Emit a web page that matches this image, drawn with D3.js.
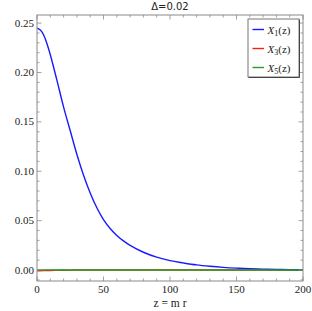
<!DOCTYPE html>
<html>
<head>
<meta charset="utf-8">
<script src="https://cdn.jsdelivr.net/npm/d3@7"></script>
<style>
  body { margin: 0; background: #fff; }
  svg { display: block; }
</style>
</head>
<body>
<div class="canvas"></div>
<script>
// data
const zValues = [0, 2.5, 5, 7.5, 10, 15, 20, 25, 30, 35, 40, 45, 50, 55, 60, 65, 70, 80, 90, 100, 110, 120, 130, 140, 150, 160, 170, 180, 190, 200]
const x1Values = [0.245, 0.243, 0.238, 0.229, 0.218, 0.192, 0.165, 0.141, 0.117, 0.096, 0.078, 0.063, 0.051, 0.042, 0.035, 0.0295, 0.025, 0.018, 0.013, 0.0095, 0.0072, 0.0052, 0.0038, 0.0027, 0.0019, 0.0013, 0.0009, 0.0006, 0.0004, 0.0003]
const x3Values = [-0.0007, -0.0007, -0.0006, -0.0005, -0.0004, -0.0003, -0.0002, -0.0001, 0, 0, 0, 0, 0, 0, 0, 0, 0, 0, 0, 0, 0, 0, 0, 0, 0, 0, 0, 0, 0, 0]
const x5Values = [0.0002, 0.0002, 0.0002, 0.0002, 0.0002, 0.0001, 0.0001, 0.0001, 0, 0, 0, 0, 0, 0, 0, 0, 0, 0, 0, 0, 0, 0, 0, 0, 0, 0, 0, 0, 0, 0]
const seriesNames = ["1", "3", "5"]
const seriesColors = ["#1a1aff", "#ff1a1a", "#22a022"]
const xTicks = [0, 50, 100, 150, 200]
const yTicks = [0.00, 0.05, 0.10, 0.15, 0.20, 0.25]
const title = "Δ=0.02"
const xLabel = "z = m r"

const dims = { width: 312, height: 311 }
const margin = { left: 37, right: 9, top: 15, bottom: 30 }
const serif = "'Liberation Serif', 'DejaVu Serif', serif"

const svg = d3.select(".canvas")
    .append("svg")
    .attr("width", dims.width)
    .attr("height", dims.height)

const w = dims.width - margin.left - margin.right
const h = dims.height - margin.top - margin.bottom

const x = d3.scaleLinear().domain([0, 200]).range([margin.left, margin.left + w])
const y = d3.scaleLinear().domain([-0.0111, 0.2582]).range([margin.top + h, margin.top])

const frameColor = "#8a8a8a"

// plot lines, clipped to frame
svg.append("clipPath").attr("id", "clip")
    .append("rect")
    .attr("x", margin.left).attr("y", margin.top)
    .attr("width", w).attr("height", h)

const line = d3.line()
    .x((d, i) => x(zValues[i]))
    .y(d => y(d))
    .curve(d3.curveCatmullRom.alpha(0.5))

const plot = svg.append("g").attr("clip-path", "url(#clip)")
const allSeries = [x1Values, x3Values, x5Values]
// red first, then blue, green on top
;[1, 0, 2].forEach(k => {
    plot.append("path")
        .datum(allSeries[k])
        .attr("fill", "none")
        .attr("stroke", seriesColors[k])
        .attr("stroke-width", 1.4)
        .attr("d", line)
})

// frame
svg.append("rect")
    .attr("x", margin.left).attr("y", margin.top)
    .attr("width", w).attr("height", h)
    .attr("fill", "none")
    .attr("stroke", frameColor)
    .attr("stroke-width", 1)

// ticks on all four sides, pointing inward
const ticks = svg.append("g").attr("stroke", frameColor).attr("stroke-width", 0.8)
d3.range(0, 201, 10).forEach(v => {
    const len = v % 50 === 0 ? 4.5 : 2.5
    ticks.append("line").attr("x1", x(v)).attr("x2", x(v))
        .attr("y1", margin.top + h).attr("y2", margin.top + h - len)
    ticks.append("line").attr("x1", x(v)).attr("x2", x(v))
        .attr("y1", margin.top).attr("y2", margin.top + len)
})
d3.range(-1, 26).forEach(i => {
    const v = i * 0.01
    const len = i % 5 === 0 ? 4.5 : 2.5
    ticks.append("line").attr("y1", y(v)).attr("y2", y(v))
        .attr("x1", margin.left).attr("x2", margin.left + len)
    ticks.append("line").attr("y1", y(v)).attr("y2", y(v))
        .attr("x1", margin.left + w).attr("x2", margin.left + w - len)
})

// tick labels
svg.append("g").selectAll("text")
    .data(xTicks)
    .enter().append("text")
    .attr("x", d => x(d))
    .attr("y", margin.top + h + 12)
    .attr("text-anchor", "middle")
    .attr("font-family", serif)
    .attr("font-size", 11)
    .attr("fill", "#222")
    .text(d => d)

svg.append("g").selectAll("text")
    .data(yTicks)
    .enter().append("text")
    .attr("x", margin.left - 3)
    .attr("y", d => y(d) + 3.5)
    .attr("text-anchor", "end")
    .attr("font-family", serif)
    .attr("font-size", 11)
    .attr("fill", "#222")
    .text(d => d.toFixed(2))

// title and axis label
svg.append("text")
    .attr("x", margin.left + w / 2)
    .attr("y", 10)
    .attr("text-anchor", "middle")
    .attr("font-family", "'DejaVu Sans', sans-serif")
    .attr("font-size", 10)
    .attr("fill", "#222")
    .text(title)

svg.append("text")
    .attr("x", margin.left + w / 2)
    .attr("y", 307)
    .attr("text-anchor", "middle")
    .attr("font-family", serif)
    .attr("font-size", 11.5)
    .attr("fill", "#222")
    .text(xLabel)

// legend
const legend = svg.append("g")
legend.append("rect")
    .attr("x", 248).attr("y", 19)
    .attr("width", 51).attr("height", 58)
    .attr("fill", "#fff")
    .attr("stroke", "#777")
    .attr("stroke-width", 1)
// slight shadow on right/bottom edges
legend.append("path")
    .attr("d", "M299.5,19.5 V77.5 H248.5")
    .attr("fill", "none")
    .attr("stroke", "#444")
    .attr("stroke-width", 1)

const rows = legend.selectAll(".row")
    .data(seriesNames)
    .enter().append("g")
    .attr("class", "row")
    .attr("transform", (d, i) => `translate(252.5, ${29.5 + i * 19})`)

rows.append("line")
    .attr("x1", 0).attr("x2", 11.5)
    .attr("stroke", (d, i) => seriesColors[i])
    .attr("stroke-width", 1.4)

const lt = rows.append("text")
    .attr("x", 15).attr("y", 4)
    .attr("font-family", serif)
    .attr("font-size", 11)
    .attr("fill", "#222")
lt.append("tspan").attr("font-style", "italic").text("X")
lt.append("tspan").attr("font-size", 8).attr("dy", 2.5).text(d => d)
lt.append("tspan").attr("dy", -2.5).text("(z)")
</script>
</body>
</html>
